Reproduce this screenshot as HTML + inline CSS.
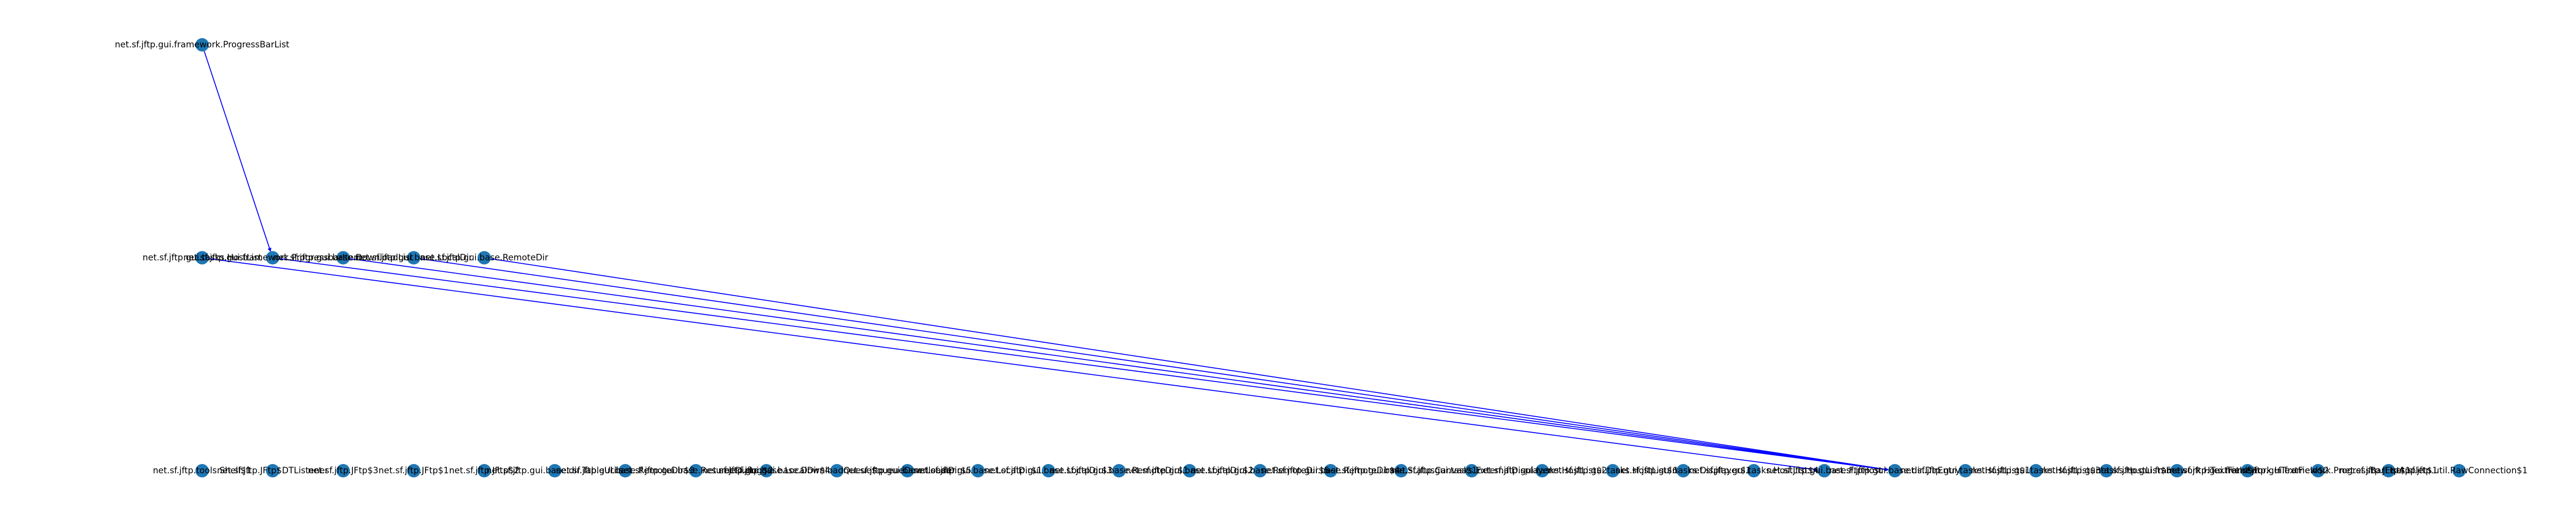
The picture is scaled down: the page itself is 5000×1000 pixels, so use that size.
<!DOCTYPE html>
<html lang="en">
<head>
<meta charset="utf-8">
<title>Class dependency graph</title>
<style>
  html, body { margin: 0; padding: 0; background: #ffffff; }
  body { width: 5000px; height: 1000px; overflow: hidden; }
  svg { display: block; }
  text { font-family: "DejaVu Sans", "Liberation Sans", sans-serif; font-size: 16.67px; fill: #000000; }
</style>
</head>
<body>
<svg id="graph" xmlns="http://www.w3.org/2000/svg" width="5000" height="1000" viewBox="0 0 5000 1000">
  <rect x="0" y="0" width="5000" height="1000" fill="#ffffff"></rect>
  <g id="edges"></g>
  <g id="nodes"></g>
  <g id="labels"></g>
</svg>
<script>
const topLayer = [
  "net.sf.jftp.gui.framework.ProgressBarList"
];
const middleLayer = [
  "net.sf.jftp.gui.tasks.HostList",
  "net.sf.jftp.gui.framework.ProgressbarItem",
  "net.sf.jftp.gui.base.DownloadList",
  "net.sf.jftp.gui.base.LocalDir",
  "net.sf.jftp.gui.base.RemoteDir"
];
const bottomLayer = [
  "net.sf.jftp.tools.Shell$1",
  "net.sf.jftp.JFtp$DTListener",
  "net.sf.jftp.JFtp$3",
  "net.sf.jftp.JFtp$1",
  "net.sf.jftp.JFtp$2",
  "net.sf.jftp.gui.base.dir.TableUtils",
  "net.sf.jftp.gui.base.RemoteDir$3",
  "net.sf.jftp.gui.base.ResumeDialog$2",
  "net.sf.jftp.gui.base.LocalDir$4",
  "net.sf.jftp.gui.base.DownloadQueue$queueDownloader",
  "net.sf.jftp.gui.base.LocalDir$5",
  "net.sf.jftp.gui.base.LocalDir$1",
  "net.sf.jftp.gui.base.LocalDir$3",
  "net.sf.jftp.gui.base.RemoteDir$1",
  "net.sf.jftp.gui.base.LocalDir$2",
  "net.sf.jftp.gui.base.RemoteDir$5",
  "net.sf.jftp.gui.base.RemoteDir$4",
  "net.sf.jftp.gui.base.StatusCanvas$1",
  "net.sf.jftp.gui.tasks.ExternalDisplayer",
  "net.sf.jftp.gui.tasks.HostList$2",
  "net.sf.jftp.gui.tasks.HostList$6",
  "net.sf.jftp.gui.tasks.Displayer$1",
  "net.sf.jftp.gui.tasks.HostList$4",
  "net.sf.jftp.gui.base.FtpHost",
  "net.sf.jftp.gui.base.dir.DirEntry",
  "net.sf.jftp.gui.tasks.HostList$1",
  "net.sf.jftp.gui.tasks.HostList$3",
  "net.sf.jftp.gui.tasks.HostList$5",
  "net.sf.jftp.gui.framework.HTextField$1",
  "net.sf.jftp.gui.framework.HTextField$2",
  "net.sf.jftp.gui.framework.ProgressBarList$1",
  "net.sf.jftp.JFtpApplet$1",
  "net.sf.jftp.util.RawConnection$1"
];
const edgeSources = [
  "net.sf.jftp.gui.framework.ProgressBarList",
  "net.sf.jftp.gui.tasks.HostList",
  "net.sf.jftp.gui.framework.ProgressbarItem",
  "net.sf.jftp.gui.base.DownloadList",
  "net.sf.jftp.gui.base.LocalDir",
  "net.sf.jftp.gui.base.RemoteDir"
];
const edgeTargets = [
  "net.sf.jftp.gui.framework.ProgressbarItem",
  "net.sf.jftp.gui.base.FtpHost",
  "net.sf.jftp.gui.base.dir.DirEntry",
  "net.sf.jftp.gui.base.dir.DirEntry",
  "net.sf.jftp.gui.base.dir.DirEntry",
  "net.sf.jftp.gui.base.dir.DirEntry"
];
const layers = [topLayer, middleLayer, bottomLayer];

const SVG_NS = "http://www.w3.org/2000/svg";
const NODE_RADIUS = 13;

function xAxis(slot) { return 392.3 + slot * 136.9; }
function yAxis(layer) { return 87 + layer * 413.5; }

function locate(name) {
  for (let layer = 0; layer < layers.length; layer++) {
    const slot = layers[layer].indexOf(name);
    if (slot >= 0) return { x: xAxis(slot), y: yAxis(layer) };
  }
  return null;
}

const edgeGroup = document.getElementById("edges");
const nodeGroup = document.getElementById("nodes");
const labelGroup = document.getElementById("labels");

edgeSources.forEach(function (source, i) {
  const a = locate(source);
  const b = locate(edgeTargets[i]);
  if (!a || !b) return;
  const dx = b.x - a.x;
  const dy = b.y - a.y;
  const len = Math.hypot(dx, dy);
  const ux = dx / len;
  const uy = dy / len;
  const tipX = b.x - ux * NODE_RADIUS;
  const tipY = b.y - uy * NODE_RADIUS;
  const baseX = tipX - ux * 6;
  const baseY = tipY - uy * 6;

  const line = document.createElementNS(SVG_NS, "line");
  line.setAttribute("x1", a.x + ux * NODE_RADIUS);
  line.setAttribute("y1", a.y + uy * NODE_RADIUS);
  line.setAttribute("x2", baseX);
  line.setAttribute("y2", baseY);
  line.setAttribute("stroke", "#0000ff");
  line.setAttribute("stroke-width", "1.8");
  
  
  edgeGroup.appendChild(line);

  const head = document.createElementNS(SVG_NS, "polygon");
  head.setAttribute("points",
    tipX + "," + tipY + " " +
    (baseX - uy * 3) + "," + (baseY + ux * 3) + " " +
    (baseX + uy * 3) + "," + (baseY - ux * 3));
  head.setAttribute("fill", "#0000ff");
  head.setAttribute("stroke", "#0000ff");
  head.setAttribute("stroke-width", "1");
  
  
  edgeGroup.appendChild(head);
});

layers.forEach(function (names, layer) {
  names.forEach(function (name, slot) {
    const cx = xAxis(slot);
    const cy = yAxis(layer);

    const circle = document.createElementNS(SVG_NS, "circle");
    circle.setAttribute("cx", cx);
    circle.setAttribute("cy", cy);
    circle.setAttribute("r", NODE_RADIUS);
    circle.setAttribute("fill", "#1f77b4");
    
    
    nodeGroup.appendChild(circle);

    const label = document.createElementNS(SVG_NS, "text");
    label.setAttribute("x", cx);
    label.setAttribute("y", cy + 5);
    label.setAttribute("text-anchor", "middle");
    label.textContent = name;
    
    
    labelGroup.appendChild(label);
  });
});
</script>
</body>
</html>
